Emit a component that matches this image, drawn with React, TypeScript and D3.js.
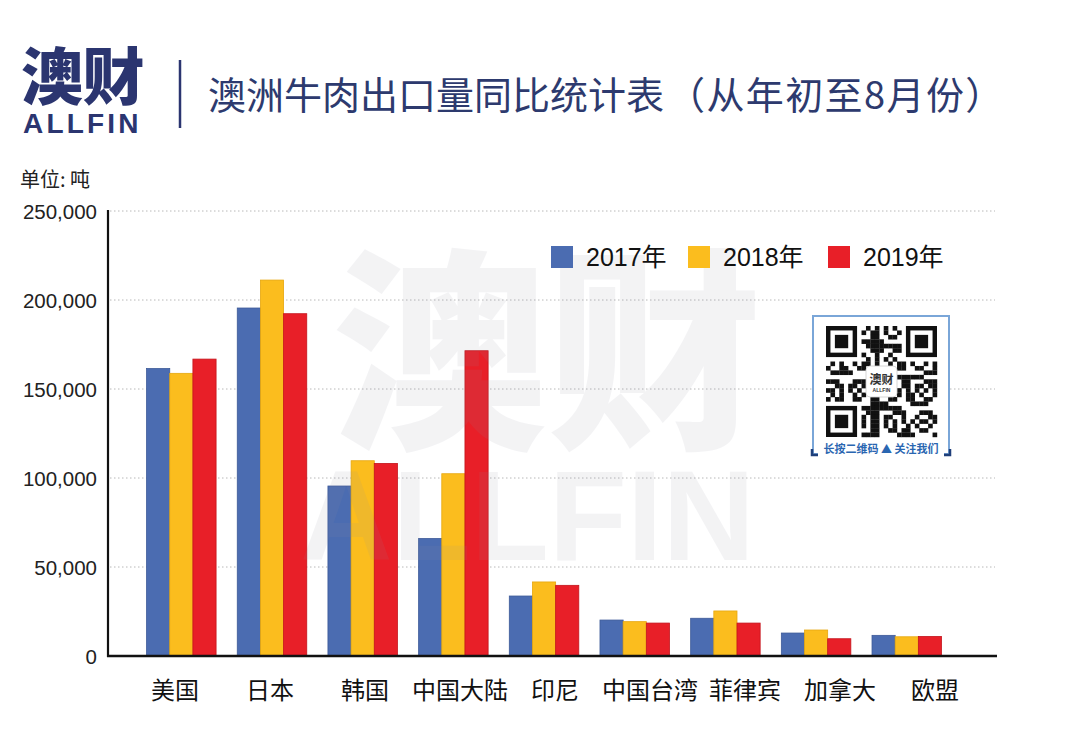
import React from 'react';
import * as d3 from 'd3';

const categories = ['美国', '日本', '韩国', '中国大陆', '印尼', '中国台湾', '菲律宾', '加拿大', '欧盟'];
const seriesNames = ['2017年', '2018年', '2019年'];
const v2017 = [161500, 195500, 95500, 66000, 33700, 20200, 21200, 12900, 11600];
const v2018 = [158800, 211200, 109700, 102400, 41600, 19300, 25300, 14600, 10800];
const v2019 = [166800, 192300, 108200, 171500, 39700, 18500, 18500, 9700, 11000];
const yTicks = [0, 50000, 100000, 150000, 200000, 250000];
const seriesColors = ['#4b6cb1', '#fbbd1e', '#e81f28'];
const seriesStroke = ['#3d5a98', '#e6a70f', '#c4141c'];

const W = 1067;
const H = 733;
const CJK = '"Noto Sans CJK SC", "Liberation Sans", sans-serif';
const LAT = '"Liberation Sans", "Noto Sans CJK SC", sans-serif';

function QRCode() {
  const x0 = 826, y0 = 326, n = 25, s = 4.44;
  const cells: JSX.Element[] = [];
  const isFinder = (i: number, j: number) =>
    (i < 8 && j < 8) || (i < 8 && j >= n - 8) || (i >= n - 8 && j < 8);
  for (let i = 0; i < n; i++) {
    for (let j = 0; j < n; j++) {
      if (isFinder(i, j)) continue;
      if (i >= 9 && i <= 15 && j >= 9 && j <= 15) continue;
      const h = (i * 73856093) ^ (j * 19349663) ^ (i * j * 83492791);
      if (((h >>> 3) & 7) < 4) {
        cells.push(<rect key={`${i}-${j}`} x={x0 + j * s} y={y0 + i * s} width={s + 0.2} height={s + 0.2} fill="#111" />);
      }
    }
  }
  const finders = [[0, 0], [0, n - 7], [n - 7, 0]].map(([r, c], k) => (
    <g key={`f${k}`}>
      <rect x={x0 + c * s} y={y0 + r * s} width={7 * s} height={7 * s} fill="#111" />
      <rect x={x0 + (c + 1) * s} y={y0 + (r + 1) * s} width={5 * s} height={5 * s} fill="#fff" />
      <rect x={x0 + (c + 2) * s} y={y0 + (r + 2) * s} width={3 * s} height={3 * s} fill="#111" />
    </g>
  ));
  return (
    <g>
      <rect x={813} y={316} width={136} height={138} fill="#fff" stroke="#7aa6d8" strokeWidth={2} />
      {cells}
      {finders}
      <rect x={866} y={366} width={31} height={31} rx={4} fill="#fff" stroke="#ccc" strokeWidth={0.8} />
      <text x={881.5} y={384} textAnchor="middle" fontFamily={CJK} fontWeight={700} fontSize={12} fill="#333">澳财</text>
      <text x={881.5} y={392} textAnchor="middle" fontFamily={LAT} fontWeight={700} fontSize={5} fill="#333">ALLFIN</text>
      <rect x={818} y={441} width={126} height={14} fill="#fff" />
      <text x={881} y={453} textAnchor="middle" fontFamily={CJK} fontWeight={700} fontSize={11} fill="#2a66b1">长按二维码 ▲ 关注我们</text>
      <path d="M812,449 L812,455 L818,455" fill="none" stroke="#1f3f7a" strokeWidth={2.5} />
      <path d="M950,449 L950,455 L944,455" fill="none" stroke="#1f3f7a" strokeWidth={2.5} />
    </g>
  );
}

export default function App() {
  const y = d3.scaleLinear().domain([0, 250000]).range([656, 211]);
  const x = d3.scaleBand<string>().domain(categories).range([125.4, 962.7]).paddingInner(0.2336).paddingOuter(0.2336);
  const xs = d3.scaleBand<number>().domain([0, 1, 2]).range([0, x.bandwidth()]);
  const xl = d3.scalePoint<string>().domain(categories).range([175, 935]);
  const allSeries = [v2017, v2018, v2019];
  const fmt = d3.format(',');

  return (
    <svg width={W} height={H} style={{ position: 'absolute', left: 0, top: 0, background: '#fff' }}>
      <rect x={0} y={0} width={W} height={H} fill="#fff" />
      {/* Logo */}
      <text x={21} y={100} fontFamily={CJK} fontWeight={900} fontSize={62} fill="#2b3570" letterSpacing={-0.5}>澳财</text>
      <text x={23} y={133} fontFamily={LAT} fontWeight={700} fontSize={28} fill="#2b3570" letterSpacing={3.2}>ALLFIN</text>
      <line x1={180} x2={180} y1={60} y2={128} stroke="#2b3570" strokeWidth={2.5} />
      {/* Title */}
      <text x={208} y={109} fontFamily={CJK} fontSize={38} fill="#2d3a6e">
        澳洲牛肉出口量同比统计表<tspan dx={3} letterSpacing={1.4}>（从年初至8月份）</tspan>
      </text>
      <text x={20} y={187} fontFamily={CJK} fontSize={20} fill="#222">单位: 吨</text>

      {/* Grid lines */}
      {yTicks.filter(t => t > 0).map(t => (
        <line key={t} x1={110} x2={995} y1={y(t)} y2={y(t)} stroke="#b8b8b8" strokeWidth={1} strokeDasharray="1.5,2.5" />
      ))}
      {/* Y tick labels */}
      {yTicks.map(t => (
        <text key={t} x={97} y={y(t)} textAnchor="end" dominantBaseline="central" fontFamily={LAT} fontSize={20.5} fill="#222">{fmt(t)}</text>
      ))}

      {/* Bars */}
      {categories.map((c, i) => (
        <g key={c} transform={`translate(${x(c)},0)`}>
          {allSeries.map((vals, k) => (
            <rect key={k} x={xs(k)} y={y(vals[i])} width={xs.bandwidth()} height={y(0) - y(vals[i])}
              fill={seriesColors[k]} stroke={seriesStroke[k]} strokeWidth={0.8} />
          ))}
        </g>
      ))}

      {/* Watermark */}
      <g opacity={0.1} fill="#8e8ea0">
        <text x={332} y={432} fontFamily={CJK} fontWeight={900} fontSize={215}>澳财</text>
        <text x={300} y={560} fontFamily={LAT} fontWeight={700} fontSize={128}>ALLFIN</text>
      </g>

      {/* Axes */}
      <line x1={108} x2={108} y1={210} y2={657} stroke="#111" strokeWidth={2.2} />
      <line x1={107} x2={997} y1={656} y2={656} stroke="#111" strokeWidth={2.5} />

      {/* X labels */}
      {categories.map(c => (
        <text key={c} x={xl(c)} y={688} textAnchor="middle" dominantBaseline="central" fontFamily={CJK} fontSize={24} fill="#111">{c}</text>
      ))}

      {/* Legend */}
      {seriesNames.map((s, k) => {
        const lx = [551, 688, 828][k];
        return (
          <g key={s}>
            <rect x={lx} y={246} width={22} height={22} fill={seriesColors[k]} />
            <text x={lx + 35} y={266} fontFamily={LAT} fontSize={25} fill="#111">{s}</text>
          </g>
        );
      })}

      <QRCode />
    </svg>
  );
}
